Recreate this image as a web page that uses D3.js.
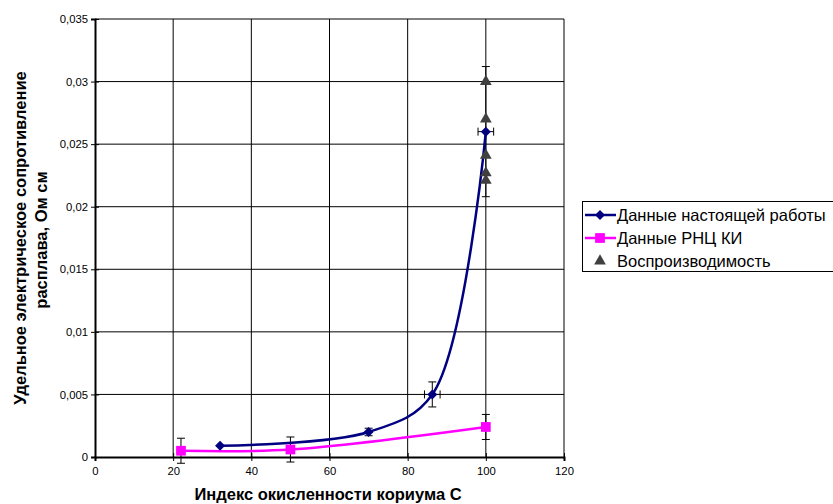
<!DOCTYPE html>
<head>
  <meta charset="utf-8">
  <style>
  body{
    margin:0;
    background:#fff;
  }
  text{
    font-family: Arial, "Liberation Sans", sans-serif;
  }
  .tick text{
    font-size:11.3px;
  }
  .title{
    font-size:16.5px;
    font-weight:bold;
  }
  .legend text{
    font-size:16.5px;
  }
  </style>
</head>
<body>
  <svg width="833" height="504"></svg>
  <script src="https://d3js.org/d3.v7.min.js"></script>
  <script>

  // данные настоящей работы
  var workX = [32, 70, 86.3, 100],
      workY = [0.0009, 0.002, 0.005, 0.026],
      workErrY = [0, 0.0003, 0.001, 0.0052],
      workErrX = [0, 0, 2, 2];

  // данные РНЦ КИ
  var rrcX = [22, 50, 100],
      rrcY = [0.0005, 0.0006, 0.0024],
      rrcErrY = [0.001, 0.001, 0.001];

  // воспроизводимость
  var reprX = [100, 100, 100, 100, 100],
      reprY = [0.030, 0.027, 0.0241, 0.0227, 0.0221];

  var xTicks = [0, 20, 40, 60, 80, 100, 120],
      yTicks = [0, 0.005, 0.01, 0.015, 0.02, 0.025, 0.03, 0.035];

  var legendNames = ["Данные настоящей работы", "Данные РНЦ КИ", "Воспроизводимость"];

  var svg = d3.select("svg"),
      pLeft = 95, pRight = 564, pTop = 19, pBottom = 457;

  var x = d3.scaleLinear().domain([0, 120]).range([pLeft, pRight]),
      y = d3.scaleLinear().domain([0, 0.035]).range([pBottom, pTop]);

  var fmt = function(d) { return String(d).replace(".", ","); };

  // сетка
  svg.append("g").selectAll("line")
    .data(xTicks.slice(1))
    .enter().append("line")
      .attr("x1", function(d) { return x(d); }).attr("x2", function(d) { return x(d); })
      .attr("y1", pTop).attr("y2", pBottom)
      .attr("stroke", "#000").attr("stroke-width", 1);
  svg.append("g").selectAll("line")
    .data(yTicks.slice(1))
    .enter().append("line")
      .attr("x1", pLeft).attr("x2", pRight)
      .attr("y1", function(d) { return y(d); }).attr("y2", function(d) { return y(d); })
      .attr("stroke", "#000").attr("stroke-width", 1);

  // оси
  var xAxis = svg.append("g")
      .attr("transform", "translate(0," + pBottom + ")")
      .call(d3.axisBottom(x).tickValues(xTicks).tickSize(4).tickPadding(6).tickFormat(fmt));
  var yAxis = svg.append("g")
      .attr("transform", "translate(" + pLeft + ",0)")
      .call(d3.axisLeft(y).tickValues(yTicks).tickSize(4).tickPadding(3).tickFormat(fmt));
  [xAxis, yAxis].forEach(function(a) {
    a.select(".domain").attr("stroke", "#000").attr("stroke-width", 2);
    a.selectAll(".tick line").attr("stroke", "#000");
    a.selectAll(".tick text").attr("fill", "#000").style("font-family", "Arial, 'Liberation Sans', sans-serif");
  });
  xAxis.selectAll(".tick line").attr("y1", -4);
  yAxis.selectAll(".tick line").attr("x1", 4);

  svg.append("text").attr("class", "title")
      .attr("x", 328).attr("y", 500).attr("text-anchor", "middle")
      .text("Индекс окисленности кориума С");
  svg.append("text").attr("class", "title")
      .attr("transform", "translate(26,238) rotate(-90)").attr("text-anchor", "middle")
      .text("Удельное электрическое сопротивление");
  svg.append("text").attr("class", "title")
      .attr("transform", "translate(47,240) rotate(-90)").attr("text-anchor", "middle")
      .text("расплава, Ом см");

  var smooth = d3.line()
      .x(function(d) { return x(d[0]); })
      .y(function(d) { return y(d[1]); })
      .curve(d3.curveCatmullRom.alpha(0.5));

  var work = d3.zip(workX, workY, workErrY, workErrX),
      rrc = d3.zip(rrcX, rrcY, rrcErrY),
      repr = d3.zip(reprX, reprY);

  // погрешности
  var err = svg.append("g").attr("stroke", "#000").attr("stroke-width", 1);
  work.concat(rrc).forEach(function(d) {
    var ey = d[2] || 0, ex = d[3] || 0;
    if (ey) {
      err.append("line").attr("x1", x(d[0])).attr("x2", x(d[0])).attr("y1", y(d[1] - ey)).attr("y2", y(d[1] + ey));
      [d[1] - ey, d[1] + ey].forEach(function(v) {
        err.append("line").attr("x1", x(d[0]) - 4).attr("x2", x(d[0]) + 4).attr("y1", y(v)).attr("y2", y(v));
      });
    }
    if (ex) {
      err.append("line").attr("y1", y(d[1])).attr("y2", y(d[1])).attr("x1", x(d[0] - ex)).attr("x2", x(d[0] + ex));
      [d[0] - ex, d[0] + ex].forEach(function(v) {
        err.append("line").attr("y1", y(d[1]) - 4).attr("y2", y(d[1]) + 4).attr("x1", x(v)).attr("x2", x(v));
      });
    }
  });

  svg.append("path").datum(rrc).attr("d", smooth)
      .attr("fill", "none").attr("stroke", "#FF00FF").attr("stroke-width", 2.5);
  svg.append("path").datum(work).attr("d", smooth)
      .attr("fill", "none").attr("stroke", "#000080").attr("stroke-width", 2.5);

  // ромб = квадрат, повёрнутый на 45°
  var diamond = d3.symbol().type(d3.symbolSquare).size(50),
      square = d3.symbol().type(d3.symbolSquare).size(95),
      triangle = d3.symbol().type(d3.symbolTriangle).size(60);

  svg.append("g").selectAll("path").data(repr).enter().append("path")
      .attr("d", triangle).attr("fill", "#404040")
      .attr("transform", function(d) { return "translate(" + x(d[0]) + "," + y(d[1]) + ")"; });
  svg.append("g").selectAll("path").data(rrc).enter().append("path")
      .attr("d", square).attr("fill", "#FF00FF")
      .attr("transform", function(d) { return "translate(" + x(d[0]) + "," + y(d[1]) + ")"; });
  svg.append("g").selectAll("path").data(work).enter().append("path")
      .attr("d", diamond).attr("fill", "#000080")
      .attr("transform", function(d) { return "translate(" + x(d[0]) + "," + y(d[1]) + ") rotate(45)"; });

  // легенда
  var legend = svg.append("g").attr("class", "legend");
  legend.append("rect").attr("x", 582.5).attr("y", 201.5).attr("width", 260).attr("height", 70)
      .attr("fill", "#fff").attr("stroke", "#000");
  var rows = legend.selectAll("g.row").data(legendNames).enter().append("g")
      .attr("transform", function(d, i) { return "translate(0," + (215 + i * 23) + ")"; });
  rows.append("text").attr("x", 617).attr("y", 6).text(function(d) { return d; });
  rows.filter(function(d, i) { return i < 2; }).append("line")
      .attr("x1", 585).attr("x2", 616).attr("y1", 0).attr("y2", 0)
      .attr("stroke", function(d, i) { return i === 0 ? "#000080" : "#FF00FF"; }).attr("stroke-width", 2.5);
  rows.append("path")
      .attr("transform", function(d, i) { return "translate(600,0)" + (i === 0 ? " rotate(45)" : ""); })
      .attr("d", function(d, i) { return i === 0 ? diamond() : i === 1 ? square() : triangle(); })
      .attr("fill", function(d, i) { return ["#000080", "#FF00FF", "#404040"][i]; });

  </script>
</body>
